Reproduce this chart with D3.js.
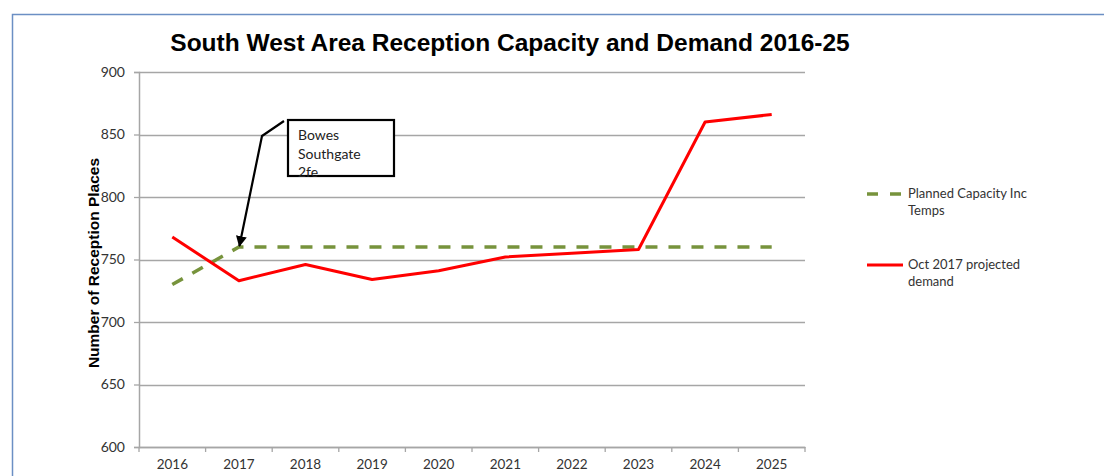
<!DOCTYPE html>
<html>
<head>
<meta charset="utf-8">
<script src="https://cdn.jsdelivr.net/npm/d3@7"></script>
<style>
  body { margin: 0; background: #fff; }
</style>
</head>
<body>
<svg id="chart" width="1104" height="476"></svg>
<script>
// chart data
var years = ["2016", "2017", "2018", "2019", "2020", "2021", "2022", "2023", "2024", "2025"];
var capacity = [730, 760, 760, 760, 760, 760, 760, 760, 760, 760];
var demand = [768, 733, 746, 734, 741, 752, 755, 758, 860, 866];
var yTicks = [600, 650, 700, 750, 800, 850, 900];
var seriesNames = ["Planned Capacity Inc Temps", "Oct 2017 projected demand"];

var svg = d3.select("#chart");
var plotLeft = 139, plotRight = 805, plotTop = 72, plotBottom = 447;
var bodyFont = "Lato, 'Open Sans', sans-serif";

// frame
svg.append("path")
    .attr("d", "M12.5,476 L12.5,14.5 L1104,14.5")
    .attr("fill", "none")
    .attr("stroke", "#6b8fc4")
    .attr("stroke-width", 1.5);

var x = d3.scaleBand().domain(years).range([plotLeft, plotRight]);
var y = d3.scaleLinear().domain([600, 900]).range([plotBottom, plotTop]);

// grid lines
svg.append("g")
    .selectAll("line")
    .data(yTicks)
    .enter()
    .append("line")
    .attr("x1", plotLeft)
    .attr("x2", plotRight)
    .attr("y1", function(d) { return Math.round(y(d)) + 0.5; })
    .attr("y2", function(d) { return Math.round(y(d)) + 0.5; })
    .attr("stroke", "#a6a6a6")
    .attr("stroke-width", 1.3);

// y axis
var yAxis = svg.append("g")
    .attr("transform", "translate(" + plotLeft + ",0)")
    .call(d3.axisLeft(y).tickValues(yTicks).tickSize(5).tickPadding(9));
yAxis.select(".domain").attr("stroke", "#a6a6a6").attr("stroke-width", 1.5);
yAxis.selectAll(".tick line").attr("stroke", "#a6a6a6").attr("stroke-width", 1.3);
yAxis.selectAll("text").attr("font-size", 14).attr("fill", "#333").attr("font-family", bodyFont);

// x axis with ticks on the band boundaries
var xAxis = svg.append("g")
    .attr("transform", "translate(0," + plotBottom + ")")
    .call(d3.axisBottom(x).tickSize(0).tickPadding(12));
xAxis.select(".domain").attr("stroke", "#a6a6a6").attr("stroke-width", 1.5);
xAxis.selectAll("text").attr("font-size", 13.5).attr("fill", "#333").attr("font-family", bodyFont);
xAxis.selectAll(".bound")
    .data(years.concat(["end"]))
    .enter()
    .append("line")
    .attr("x1", function(d, i) { return plotLeft + i * x.step(); })
    .attr("x2", function(d, i) { return plotLeft + i * x.step(); })
    .attr("y1", 0)
    .attr("y2", 5)
    .attr("stroke", "#a6a6a6")
    .attr("stroke-width", 1.3);

var line = d3.line()
    .x(function(d, i) { return x(years[i]) + x.bandwidth() / 2; })
    .y(function(d) { return y(d); });

svg.append("path")
    .datum(capacity)
    .attr("d", line)
    .attr("fill", "none")
    .attr("stroke", "#77933c")
    .attr("stroke-width", 3.5)
    .attr("stroke-dasharray", "12,11");

svg.append("path")
    .datum(demand)
    .attr("d", line)
    .attr("fill", "none")
    .attr("stroke", "#ff0000")
    .attr("stroke-width", 3)
    .attr("stroke-linejoin", "round");

// title
svg.append("text")
    .attr("x", 510)
    .attr("y", 51)
    .attr("text-anchor", "middle")
    .attr("font-family", "'Liberation Sans', Arial, sans-serif")
    .attr("font-weight", "bold")
    .attr("font-size", 24.5)
    .text("South West Area Reception Capacity and Demand 2016-25");

// y axis title
svg.append("text")
    .attr("transform", "translate(99,263) rotate(-90)")
    .attr("text-anchor", "middle")
    .attr("font-family", "'Liberation Sans', Arial, sans-serif")
    .attr("font-weight", "bold")
    .attr("font-size", 15.5)
    .text("Number of Reception Places");

// annotation
var defs = svg.append("defs");
defs.append("marker")
    .attr("id", "arrow")
    .attr("viewBox", "0 0 10 10")
    .attr("refX", 9)
    .attr("refY", 5)
    .attr("markerWidth", 5)
    .attr("markerHeight", 5)
    .attr("orient", "auto")
    .append("path")
    .attr("d", "M0,0 L10,5 L0,10 z")
    .attr("fill", "#000");

var tip = [x("2017") + x.bandwidth() / 2 + 0.5, y(capacity[1]) - 1];
svg.append("path")
    .attr("d", "M284,121 L262,136 L" + tip[0] + "," + tip[1])
    .attr("fill", "none")
    .attr("stroke", "#000")
    .attr("stroke-width", 2.2)
    .attr("marker-end", "url(#arrow)");

svg.append("rect")
    .attr("x", 288)
    .attr("y", 120)
    .attr("width", 106)
    .attr("height", 56)
    .attr("fill", "#fff")
    .attr("stroke", "#000")
    .attr("stroke-width", 2.2);

var note = svg.append("text")
    .attr("font-family", bodyFont)
    .attr("font-size", 14)
    .attr("fill", "#222");
["Bowes", "Southgate", "2fe"].forEach(function(t, i) {
    note.append("tspan").attr("x", 298).attr("y", 140 + i * 18.5).text(t);
});

// legend
var legend = svg.append("g");
legend.append("line")
    .attr("x1", 867).attr("x2", 903)
    .attr("y1", 194).attr("y2", 194)
    .attr("stroke", "#77933c")
    .attr("stroke-width", 3.5)
    .attr("stroke-dasharray", "11,12");
legend.append("line")
    .attr("x1", 867).attr("x2", 903)
    .attr("y1", 265).attr("y2", 265)
    .attr("stroke", "#ff0000")
    .attr("stroke-width", 3);

var legendLines = [["Planned Capacity Inc", "Temps"], ["Oct 2017 projected", "demand"]];
legendLines.forEach(function(lines, k) {
    var t = legend.append("text")
        .attr("font-family", bodyFont)
        .attr("font-size", 13)
        .attr("fill", "#333");
    lines.forEach(function(s, i) {
        t.append("tspan").attr("x", 908).attr("y", 198 + k * 71 + i * 17).text(s);
    });
});
</script>
</body>
</html>
